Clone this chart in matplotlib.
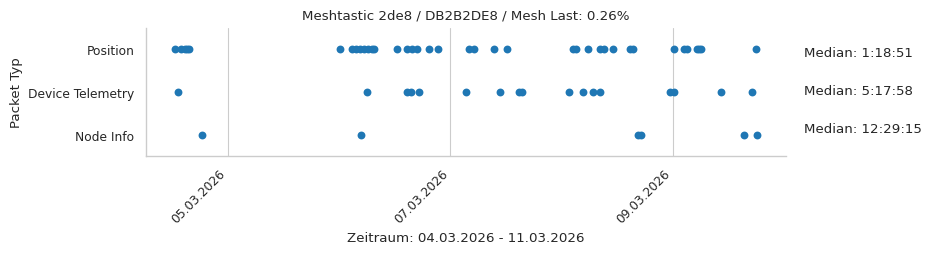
import matplotlib
matplotlib.use("Agg")
import matplotlib.pyplot as plt
import matplotlib.dates as mdates
import pandas as pd
import seaborn as sns

categories = ["Position", "Device Telemetry", "Node Info"]

position_times = [
    "2026-03-04 12:34", "2026-03-04 13:52", "2026-03-04 14:43", "2026-03-04 15:09", "2026-03-04 15:35",
    "2026-03-06 00:14", "2026-03-06 02:41", "2026-03-06 03:37", "2026-03-06 04:29", "2026-03-06 05:20",
    "2026-03-06 06:12", "2026-03-06 07:00", "2026-03-06 07:34", "2026-03-06 12:31", "2026-03-06 14:41",
    "2026-03-06 15:38", "2026-03-06 16:50", "2026-03-06 19:26", "2026-03-06 21:22",
    "2026-03-07 03:59", "2026-03-07 05:04", "2026-03-07 09:27", "2026-03-07 12:15",
    "2026-03-08 02:29", "2026-03-08 03:13", "2026-03-08 05:44", "2026-03-08 08:24", "2026-03-08 09:07",
    "2026-03-08 11:07", "2026-03-08 14:43", "2026-03-08 15:26",
    "2026-03-09 00:17", "2026-03-09 02:26", "2026-03-09 03:10", "2026-03-09 05:14", "2026-03-09 05:43",
    "2026-03-09 06:11", "2026-03-09 17:58",
]
telemetry_times = [
    "2026-03-04 13:04", "2026-03-06 06:03", "2026-03-06 14:41", "2026-03-06 15:25", "2026-03-06 17:16",
    "2026-03-07 03:25", "2026-03-07 10:45", "2026-03-07 14:47", "2026-03-07 15:29",
    "2026-03-08 01:38", "2026-03-08 04:39", "2026-03-08 06:48", "2026-03-08 08:24", "2026-03-08 23:21",
    "2026-03-09 00:17", "2026-03-09 10:25", "2026-03-09 17:06",
]
nodeinfo_times = [
    "2026-03-04 18:27", "2026-03-06 04:45", "2026-03-08 16:27", "2026-03-08 17:15",
    "2026-03-09 15:23", "2026-03-09 18:11",
]
medians = ["Median: 1:18:51", "Median: 5:17:58", "Median: 12:29:15"]
title = "Meshtastic 2de8 / DB2B2DE8 / Mesh Last: 0.26%"
xlabel = "Zeitraum: 04.03.2026 - 11.03.2026"
ylabel = "Packet Typ"

sns.set_theme(style="whitegrid", context="paper")
plt.rcParams["font.family"] = ["DejaVu Sans"]

fig = plt.figure(figsize=(9.31, 2.55), dpi=100)
ax = fig.add_axes([0.157, 0.384, 0.687, 0.502])

series = [position_times, telemetry_times, nodeinfo_times]
for i, times in enumerate(series):
    t = pd.to_datetime(times)
    ax.scatter(t, [i] * len(t), s=32, color="#1f77b4", linewidths=0, zorder=3)

ax.set_yticks(range(len(categories)))
ax.set_yticklabels(categories)
ax.set_ylim(2.5, -0.5)
ax.grid(axis="y", visible=False)
ax.grid(axis="x", color="#cccccc", linewidth=0.8)
ax.xaxis.set_major_locator(mdates.DayLocator(bymonthday=range(1, 32, 2)))
ax.xaxis.set_major_formatter(mdates.DateFormatter("%d.%m.%Y"))
ax.margins(x=0.05)
plt.setp(ax.get_xticklabels(), rotation=45, ha="right")
ax.tick_params(axis="both", labelsize=8.8, colors="#262626", length=0)
ax.tick_params(axis="x", pad=7.5)
ax.tick_params(axis="y", pad=8.5)

for side in ["top", "right"]:
    ax.spines[side].set_visible(False)
for side in ["left", "bottom"]:
    ax.spines[side].set_color("#cccccc")
    ax.spines[side].set_linewidth(1.0)

ax.set_title(title, fontsize=9.6, color="#262626", pad=7)
ax.set_xlabel(xlabel, fontsize=9.6, color="#262626", labelpad=4.5)
ax.set_ylabel(ylabel, fontsize=9.6, color="#262626")

for yfrac, m in zip([0.792, 0.64, 0.494], medians):
    fig.text(0.864, yfrac, m, fontsize=9.6, color="#262626", va="center", ha="left")

fig.savefig("out.png", dpi=100)
